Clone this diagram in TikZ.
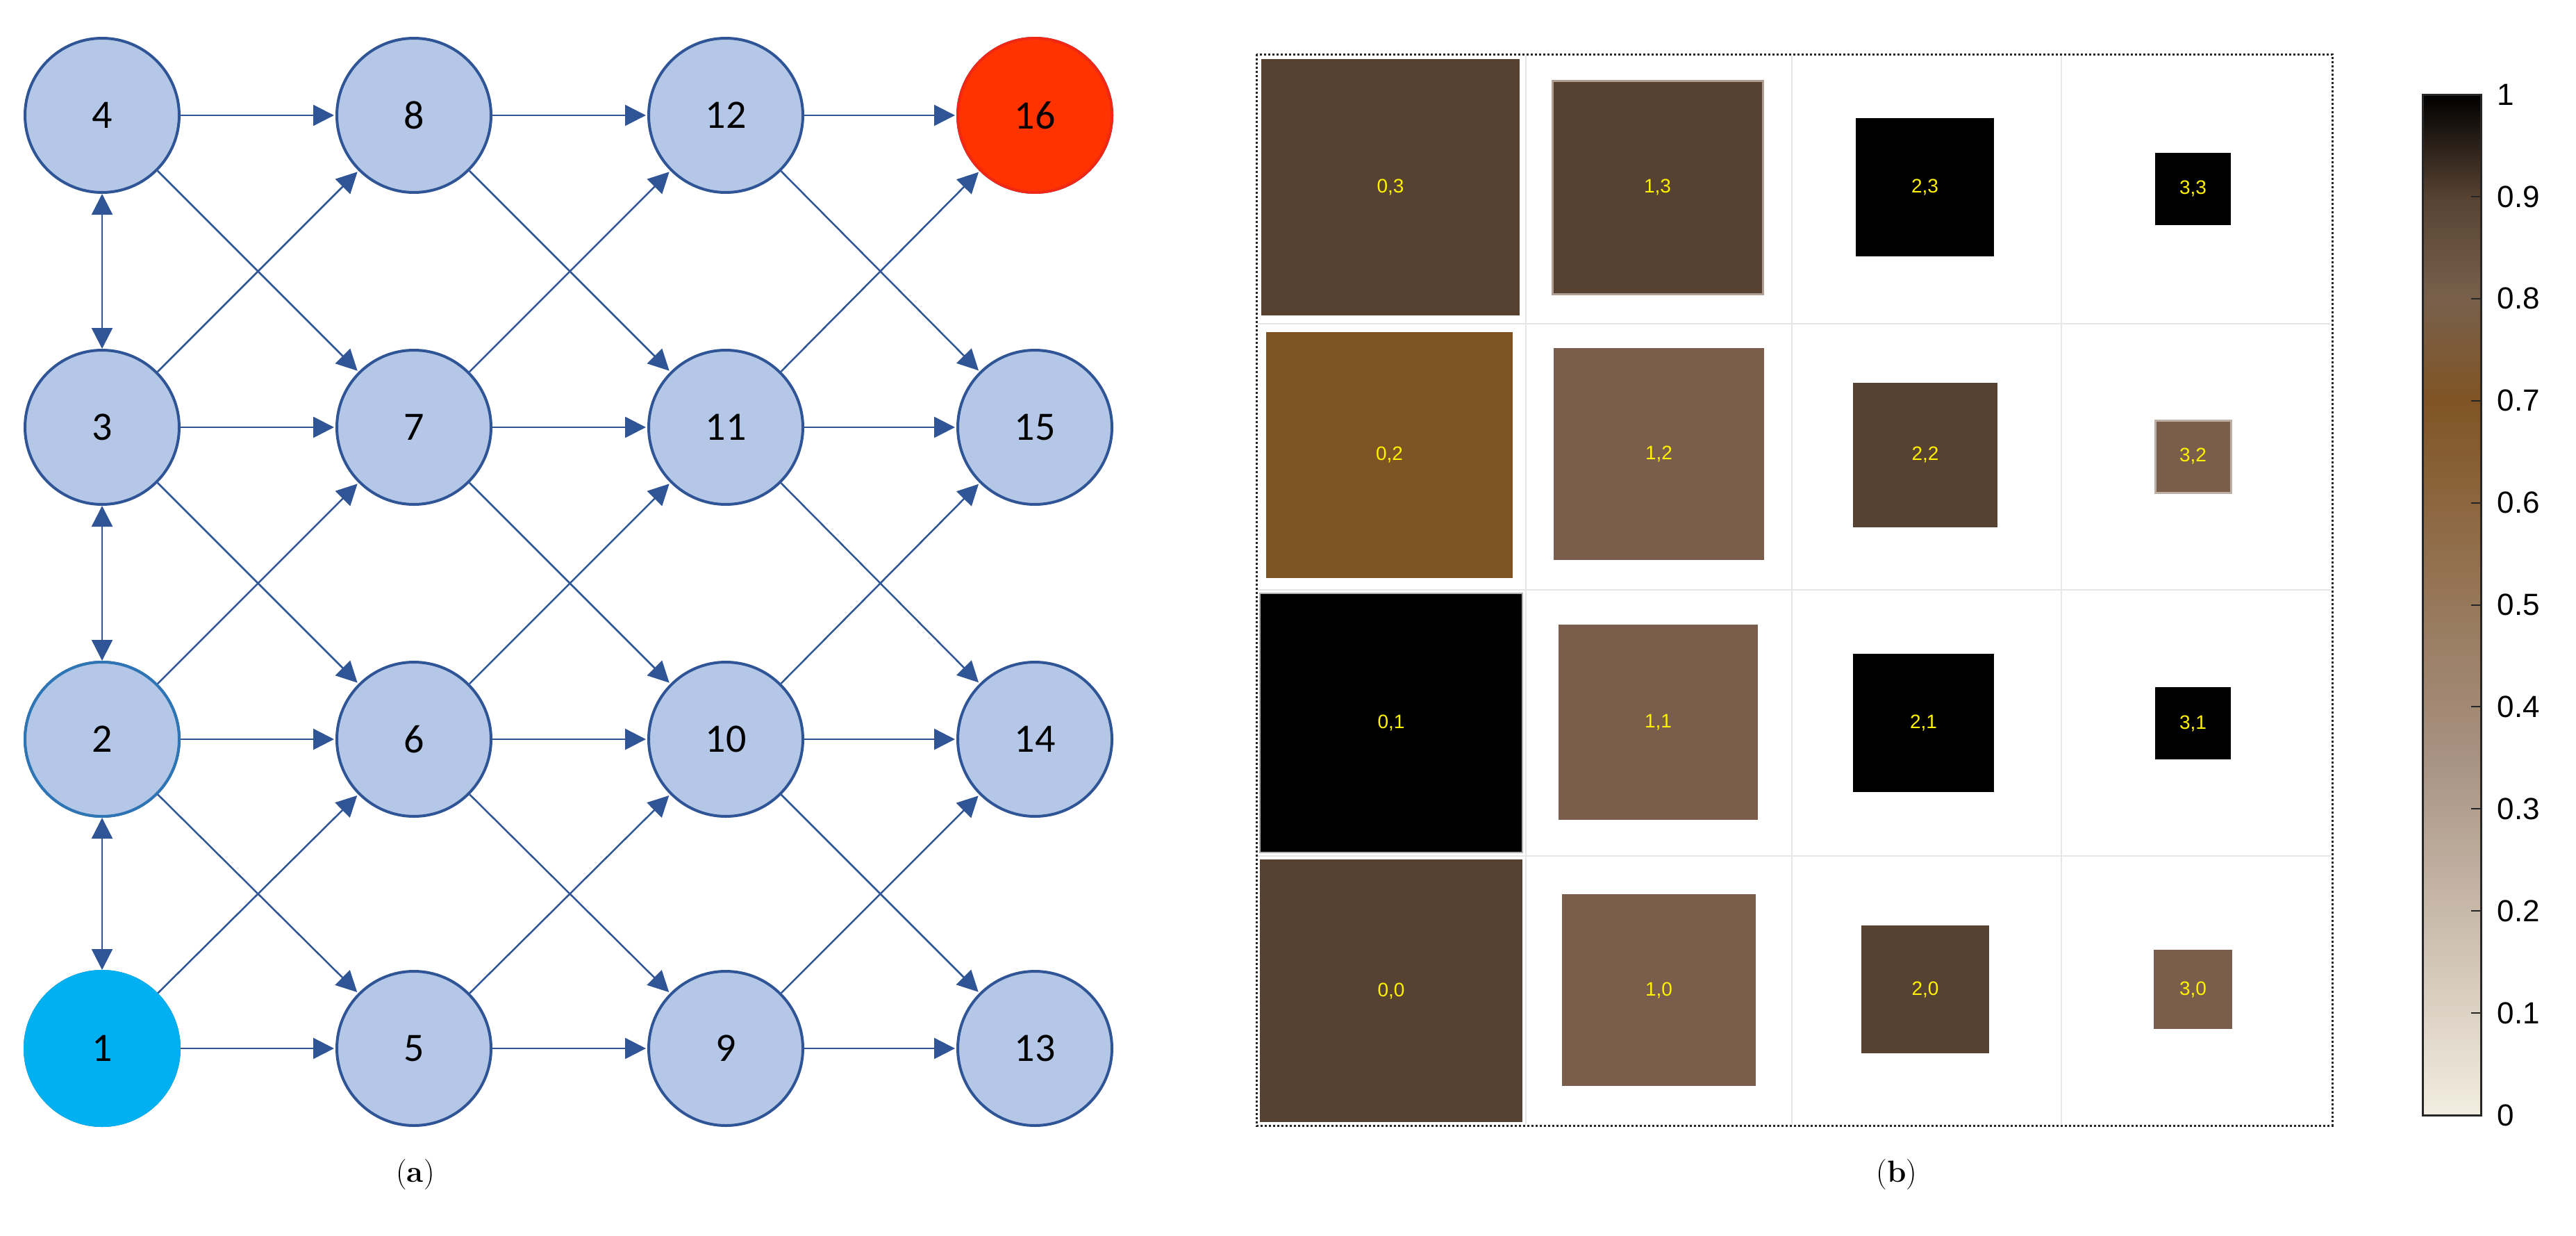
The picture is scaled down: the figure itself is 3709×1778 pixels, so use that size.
\documentclass[tikz,border=0pt]{standalone}
\usepackage{fontspec}
\setmainfont{Latin Modern Roman}
\newfontfamily\nodefont{Carlito}
\newfontfamily\sansf{Liberation Sans}
\usetikzlibrary{arrows.meta}
\definecolor{edge}{HTML}{2F5597}
\definecolor{nfill}{HTML}{B4C7E7}
\definecolor{dk}{HTML}{574232}
\definecolor{md}{HTML}{7A5E4B}
\definecolor{or}{HTML}{7F5424}
\definecolor{gl}{HTML}{E6E6E6}
\begin{document}
\begin{tikzpicture}[x=1pt,y=-1pt,
  nd/.style={circle,draw=edge,line width=4pt,fill=nfill,minimum size=222pt,inner sep=0pt,font=\nodefont\fontsize{58}{60}\selectfont},
  ar/.style={draw=edge,line width=2.5pt,-{Triangle[length=30pt,width=30pt]},shorten >=2pt},
  br/.style={draw=edge,line width=2.5pt,{Triangle[length=30pt,width=30pt]}-{Triangle[length=30pt,width=30pt]}},
  cell/.style={font=\sansf\fontsize{28}{30}\selectfont,text=yellow},
  tk/.style={font=\sansf\fontsize{44}{46}\selectfont,anchor=west}]
\useasboundingbox (0,0) rectangle (3709,1778);
% nodes
\foreach \c/\x in {0/147,1/596,2/1045,3/1490}{
  \foreach \r/\y in {0/1509,1/1064,2/615,3/166}{
    \pgfmathtruncatemacro\n{\c*4+\r+1}
    \node[nd] (n\n) at (\x,\y) {\n};
  }}
\node[nd,fill={rgb,255:red,0;green,176;blue,240},draw={rgb,255:red,0;green,176;blue,240}] at (n1) {1};
\node[nd,draw={rgb,255:red,46;green,117;blue,182}] at (n2) {2};
\node[nd,fill={rgb,255:red,255;green,51;blue,0},draw={rgb,255:red,240;green,40;blue,20}] at (n16) {16};
% edges
\foreach \c in {0,1,2}{
  \foreach \r in {0,1,2,3}{
    \pgfmathtruncatemacro\a{\c*4+\r+1}
    \pgfmathtruncatemacro\b{\c*4+\r+5}
    \draw[ar] (n\a) -- (n\b);
    \ifnum\r<3 \pgfmathtruncatemacro\b{\c*4+\r+6}\draw[ar] (n\a) -- (n\b);\fi
    \ifnum\r>0 \pgfmathtruncatemacro\b{\c*4+\r+4}\draw[ar] (n\a) -- (n\b);\fi
  }}
\draw[br] (n1) -- (n2);
\draw[br] (n2) -- (n3);
\draw[br] (n3) -- (n4);
\node[font=\fontsize{44}{46}\selectfont] (capa) at (598,1690) {(\textbf{a})};
% panel b grid
\foreach \x in {2197,2580,2968}{\draw[gl,line width=2pt] (\x,80) -- (\x,1618);}
\foreach \y in {466,849,1232}{\draw[gl,line width=2pt] (1811,\y) -- (3356,\y);}
\newcommand\cbox[6]{\fill[#5] (#1,#3) rectangle (#2,#4); \node[cell] at ({(#1+#2)/2},{(#3+#4)/2}) {#6};}
\cbox{1816}{2188}{85}{454}{dk}{0,3}
\cbox{2235}{2538}{116}{423}{dk,draw=md!60!white,line width=3pt}{1,3}
\cbox{2672}{2871}{170}{369}{black}{2,3}
\cbox{3103}{3212}{220}{324}{black}{3,3}
\cbox{1823}{2178}{478}{832}{or}{0,2}
\cbox{2237}{2540}{501}{806}{md}{1,2}
\cbox{2668}{2876}{551}{759}{dk}{2,2}
\cbox{3103}{3212}{605}{709}{md,draw=md!50!white,line width=3pt}{3,2}
\cbox{1814}{2192}{854}{1227}{black,draw=gray!60,line width=2pt}{0,1}
\cbox{2244}{2531}{899}{1180}{md}{1,1}
\cbox{2668}{2871}{941}{1140}{black}{2,1}
\cbox{3103}{3212}{989}{1093}{black}{3,1}
\cbox{1814}{2192}{1237}{1615}{dk}{0,0}
\cbox{2249}{2528}{1287}{1563}{md}{1,0}
\cbox{2680}{2864}{1332}{1516}{dk}{2,0}
\cbox{3101}{3214}{1367}{1481}{md}{3,0}
\draw[black!85,line width=3pt,dash pattern=on 3pt off 3pt] (1809,78) rectangle (3358,1620);
\node[font=\fontsize{44}{46}\selectfont] (capb) at (2731,1690) {(\textbf{b})};
% colorbar
\shade[top color={rgb,255:red,128;green,84;blue,36},bottom color={rgb,255:red,242;green,237;blue,224},middle color={rgb,255:red,168;green,146;blue,130}] (3488,576) rectangle (3572,1605);
\shade[top color={rgb,255:red,120;green,96;blue,76},bottom color={rgb,255:red,128;green,84;blue,36}] (3488,429) rectangle (3572,577);
\shade[top color={rgb,255:red,87;green,66;blue,50},bottom color={rgb,255:red,120;green,96;blue,76}] (3488,283) rectangle (3572,430);
\shade[top color=black,bottom color={rgb,255:red,87;green,66;blue,50}] (3488,136) rectangle (3572,284);
\draw[black!85,line width=3pt] (3488,136) rectangle (3572,1605);
\foreach \v in {0,...,10}{
  \pgfmathsetmacro\yy{1605-146.9*\v}
  \draw[black!85,line width=2pt] (3558,\yy) -- (3572,\yy);
}
\foreach \v/\t in {0/0,1/0.1,2/0.2,3/0.3,4/0.4,5/0.5,6/0.6,7/0.7,8/0.8,9/0.9,10/1}{
  \pgfmathsetmacro\yy{1605-146.9*\v}
  \node[tk] at (3592,\yy) {\t};
}
\end{tikzpicture}
\end{document}
